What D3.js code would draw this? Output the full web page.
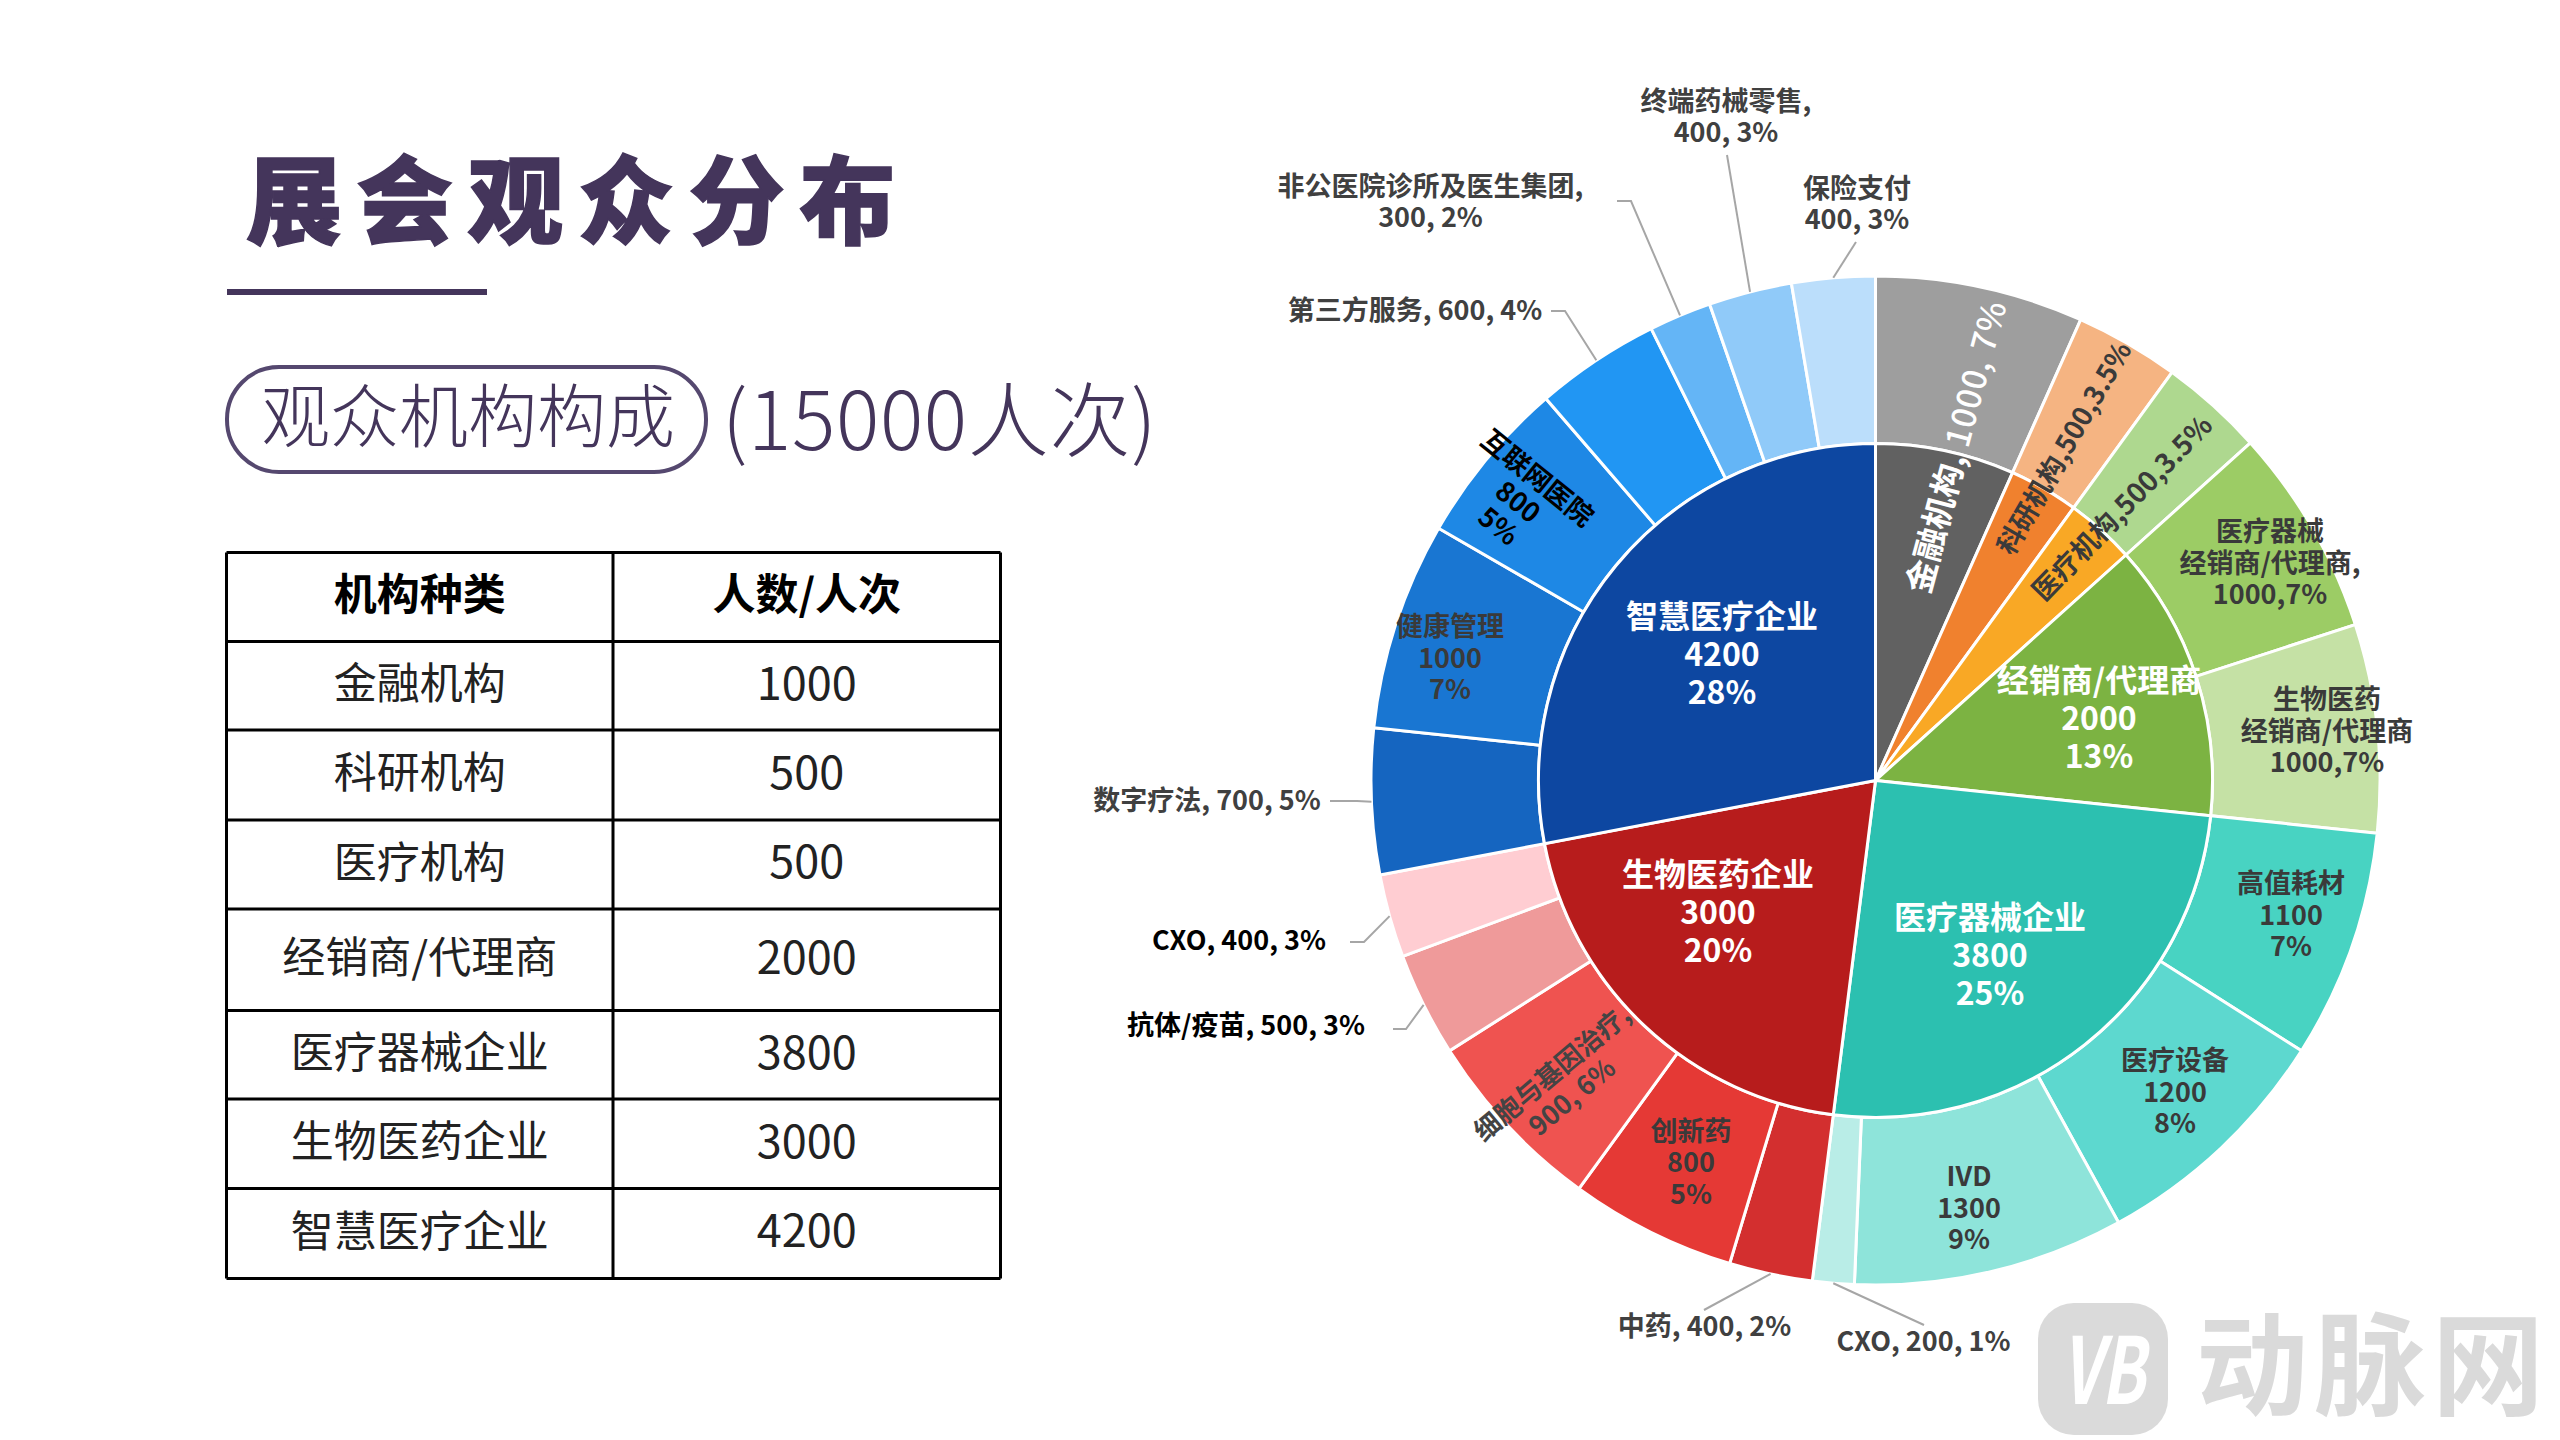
<!DOCTYPE html>
<html lang="zh-CN"><head><meta charset="utf-8">
<script src="https://cdn.jsdelivr.net/npm/d3@7"></script>
<style>
html,body{margin:0;padding:0;background:#fff;overflow:hidden}
text{font-family:"Noto Sans CJK SC","Noto Sans",sans-serif}
</style></head><body><svg id="c" width="2560" height="1440"></svg>
<script>
const titleText="展会观众分布";
const pillText="观众机构构成";
const subtitleText="(15000人次)";
const tableHeader=["机构种类","人数/人次"];
const tableNames=["金融机构","科研机构","医疗机构","经销商/代理商","医疗器械企业","生物医药企业","智慧医疗企业"];
const tableValues=[1000,500,500,2000,3800,3000,4200];
const innerValues=[1000,500,500,2000,3800,3000,4200];
const innerColors=["#616161","#F0812E","#F9A825","#7CB342","#2CC0B0","#B71C1C","#0D47A1"];
const outerNames=["金融机构","科研机构","医疗机构","医疗器械经销商","生物医药经销商","高值耗材","医疗设备","IVD","CXO","中药","创新药","细胞与基因治疗","抗体/疫苗","CXO","数字疗法","健康管理","互联网医院","第三方服务","非公医院","终端药械零售","保险支付"];
const outerValues=[1000,500,500,1000,1000,1100,1200,1300,200,400,800,900,500,400,700,1000,800,600,300,400,400];
const outerColors=["#9E9E9E","#F5B482","#AED88F","#9CCC65","#C5E1A5","#48D3C2","#5DD8CF","#8EE4DA","#B9EDE7","#D32F2F","#E53935","#EF5350","#EF9A9A","#FFCDD2","#1565C0","#1976D2","#1E88E5","#2196F3","#64B5F6","#90CAF9","#BBDEFB"];
const innerLabels=[["智慧医疗企业","4200","28%"],["生物医药企业","3000","20%"],["医疗器械企业","3800","25%"],["经销商/代理商","2000","13%"]];
const outerLabels=[["医疗器械","经销商/代理商,","1000,7%"],["生物医药","经销商/代理商","1000,7%"],["高值耗材","1100","7%"],["医疗设备","1200","8%"],["IVD","1300","9%"],["创新药","800","5%"],["健康管理","1000","7%"]];
const radialLabels=[["科研机构,500,3.5%"],["医疗机构,500,3.5%"],["互联网医院","800","5%"],["细胞与基因治疗,","900, 6%"]];
const financeLabelHead="金融机构,";
const financeLabelTail=" 1000, 7%";
const calloutLabels=[["终端药械零售,","400, 3%"],["保险支付","400, 3%"],["非公医院诊所及医生集团,","300, 2%"],["第三方服务, 600, 4%"],["数字疗法, 700, 5%"],["CXO, 400, 3%"],["抗体/疫苗, 500, 3%"],["中药, 400, 2%"],["CXO, 200, 1%"]];
const calloutSlices=[19,20,18,17,14,13,12,9,8];

// ---- layout (kept apart from the data) ----
const cx=1875.5,cy=780.5,rInner=337,rOuter=504.5;
const innerPos=[[1722,654.5],[1718,912.5],[1990,955],[2099,718]];
const outerPos=[[2270,563],[2327,731],[2291,915],[2175,1092],[1969,1208],[1691,1162.5],[1450,658]];
const radialPos=[[2064,448,-60,27,"#3a3a3a"],[2122,508,-46,27.5,"#3a3a3a"],[1518,502,39,27,"#000"],[1562,1085,-40,26.5,"#444"]];
const financePos=[1956.5,446.5,-75,33];
const calloutPos=[[1726,117,"#404040"],[1857,204,"#404040"],[1430.5,202,"#404040"],[1415,310,"#404040"],[1207,800,"#404040"],[1239,940.5,"#000"],[1246,1025,"#000"],[1704.5,1326,"#404040"],[1923.5,1341,"#404040"]];
const leaderKnees=[[1727,155],[1856,242],[1631,201],[1565,311],[1357,801],[1364,942],[1406,1029],[1704,1310],[1924,1325]];
const leaderTails=[null,null,[1617,201],[1551,311],[1330,801],[1350,942],[1393,1029],null,null];
const rowEdges=[552.5,641.5,730,820,909,1010.5,1099,1188.5,1278.5];
const purple="#44355B";

const svg=d3.select("#c");
svg.append("rect").attr("width",2560).attr("height",1440).attr("fill","#fff");

// watermark
svg.append("rect").attr("x",2038).attr("y",1303).attr("width",130).attr("height",132).attr("rx",36).attr("fill","#DADADA");
svg.append("text").attr("x",2103).attr("y",1404).attr("text-anchor","middle").attr("font-size",92).attr("font-weight",700).attr("font-style","italic").attr("fill","#fff").attr("textLength",84).attr("lengthAdjust","spacingAndGlyphs").text("VB");
svg.append("text").attr("x",2196).attr("y",1407).attr("font-size",112).attr("letter-spacing",6).attr("font-weight",700).attr("fill","#DADADA").text("动脉网");

// title
svg.append("text").attr("x",246).attr("y",236).attr("font-size",96).attr("font-weight",900).attr("letter-spacing",14.7).attr("fill",purple).attr("stroke",purple).attr("stroke-width",1.5).text(titleText);
svg.append("rect").attr("x",227).attr("y",289).attr("width",260).attr("height",6).attr("fill",purple);
svg.append("rect").attr("x",227).attr("y",367).attr("width",479).attr("height",105).attr("rx",52).attr("fill","none").attr("stroke","#55486F").attr("stroke-width",4);
svg.append("text").attr("x",261).attr("y",442).attr("font-size",69).attr("font-weight",300).attr("fill",purple).text(pillText);
svg.append("text").attr("x",722).attr("y",450).attr("font-size",81).attr("letter-spacing",0.6).attr("font-weight",300).attr("fill",purple).text(subtitleText);

// table
const tx0=226.5,txm=613,tx1=1000.5;
const tbl=svg.append("g");
tbl.selectAll("line.h").data(rowEdges).join("line").attr("x1",tx0).attr("x2",tx1).attr("y1",d=>d).attr("y2",d=>d).attr("stroke","#000").attr("stroke-width",3);
tbl.selectAll("line.v").data([tx0,txm,tx1]).join("line").attr("class","v").attr("x1",d=>d).attr("x2",d=>d).attr("y1",rowEdges[0]).attr("y2",rowEdges[8]).attr("stroke","#000").attr("stroke-width",3);
const rowMid=i=>(rowEdges[i]+rowEdges[i+1])/2;
tableHeader.forEach((t,k)=>tbl.append("text").attr("x",k?(txm+tx1)/2:(tx0+txm)/2).attr("y",rowMid(0)).attr("dy","0.31em").attr("text-anchor","middle").attr("font-size",43).attr("font-weight",700).attr("fill","#000").text(t));
tableNames.forEach((t,i)=>{
  tbl.append("text").attr("x",(tx0+txm)/2).attr("y",rowMid(i+1)).attr("dy","0.31em").attr("text-anchor","middle").attr("font-size",43).attr("fill","#222").text(t);
  tbl.append("text").attr("x",(txm+tx1)/2).attr("y",rowMid(i+1)).attr("dy","0.31em").attr("text-anchor","middle").attr("font-size",45).attr("fill","#222").text(tableValues[i]);
});

// sunburst
const pie=d3.pie().sort(null).value(d=>d);
const innerArcs=pie(innerValues),outerArcs=pie(outerValues);
const arcI=d3.arc().innerRadius(0).outerRadius(rInner);
const arcO=d3.arc().innerRadius(rInner).outerRadius(rOuter);
const g=svg.append("g").attr("transform",`translate(${cx},${cy})`);
g.selectAll("path.o").data(outerArcs).join("path").attr("class","o").attr("d",arcO).attr("fill",(d,i)=>outerColors[i]).attr("stroke","#fff").attr("stroke-width",3);
g.selectAll("path.i").data(innerArcs).join("path").attr("class","i").attr("d",arcI).attr("fill",(d,i)=>innerColors[i]).attr("stroke","#fff").attr("stroke-width",3);

// leaders
const leader=d3.line();
calloutSlices.forEach((s,i)=>{
  const a=(outerArcs[s].startAngle+outerArcs[s].endAngle)/2;
  const pts=[[cx+rOuter*Math.sin(a),cy-rOuter*Math.cos(a)],leaderKnees[i]];
  if(leaderTails[i])pts.push(leaderTails[i]);
  svg.append("path").attr("d",leader(pts)).attr("fill","none").attr("stroke","#A6A6A6").attr("stroke-width",2);
});

function block(lines,x,y,size,pitch,fill,weight,rot){
  const t=svg.append("text").attr("text-anchor","middle").attr("font-size",size).attr("font-weight",weight||700).attr("fill",fill);
  if(rot)t.attr("transform",`translate(${x},${y}) rotate(${rot})`);
  else t.attr("transform",`translate(${x},${y})`);
  const off=-(lines.length-1)*pitch/2;
  lines.forEach((l,i)=>t.append("tspan").attr("x",0).attr("y",off+i*pitch).attr("dy","0.36em").text(l));
}
innerLabels.forEach((l,i)=>block(l,innerPos[i][0],innerPos[i][1],32,38,"#fff"));
outerLabels.forEach((l,i)=>block(l,outerPos[i][0],outerPos[i][1],27,31.5,"#3a3a3a"));
radialLabels.forEach((l,i)=>{const p=radialPos[i];block(l,p[0],p[1],p[3],31,p[4],700,p[2]);});
calloutLabels.forEach((l,i)=>{const p=calloutPos[i];block(l,p[0],p[1],27,31.5,p[2]);});
const ft=svg.append("text").attr("text-anchor","middle").attr("dy","0.36em").attr("font-size",financePos[3]).attr("fill","#fff").attr("transform",`translate(${financePos[0]},${financePos[1]}) rotate(${financePos[2]})`);
ft.append("tspan").attr("font-weight",700).text(financeLabelHead);
ft.append("tspan").attr("font-weight",500).attr("letter-spacing",1).text(financeLabelTail);
</script></body></html>
